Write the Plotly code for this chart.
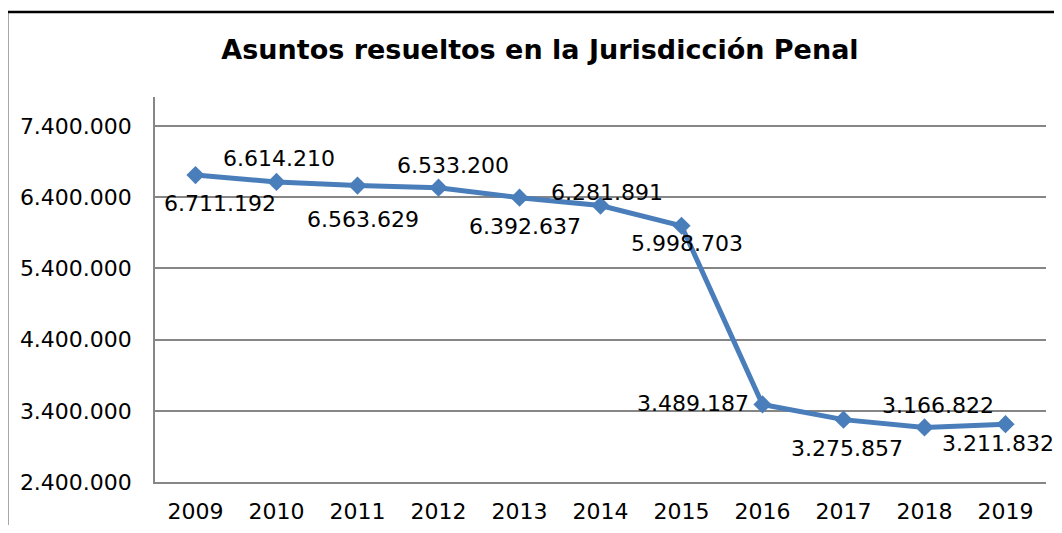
import plotly.graph_objects as go

years = ["2009", "2010", "2011", "2012", "2013", "2014", "2015", "2016", "2017", "2018", "2019"]
resueltos = [6711192, 6614210, 6563629, 6533200, 6392637, 6281891, 5998703, 3489187, 3275857, 3166822, 3211832]
y_ticks = [2400000, 3400000, 4400000, 5400000, 6400000, 7400000]
y_tick_labels = ["2.400.000", "3.400.000", "4.400.000", "5.400.000", "6.400.000", "7.400.000"]
# label offsets (pixels) relative to each point
label_dx = [24, 2, 5, 14, 5, 6, 5, -70, 3, 13, -8]
label_dy = [-28, 23, -34, 22, -29, 13, -18, 1, -29, 22, -19]

LINE = "#4A7EBB"
GRID = "#868686"
FONT = "DejaVu Sans"
FS = 22

def fmt(v):
    return f"{v:,}".replace(",", ".")

fig = go.Figure()
fig.add_trace(go.Scatter(
    x=years, y=resueltos, mode="lines+markers",
    line=dict(color=LINE, width=5),
    marker=dict(symbol="diamond", size=14, color=LINE),
    hoverinfo="x+y", showlegend=False,
))

annotations = []
for i, (v, dx, dy) in enumerate(zip(resueltos, label_dx, label_dy)):
    annotations.append(dict(x=i, y=v, xref="x", yref="y", text=fmt(v), showarrow=False,
                            xshift=dx, yshift=dy, xanchor="center", yanchor="middle",
                            font=dict(family=FONT, size=FS, color="#000000")))

shapes = [
    dict(type="line", xref="paper", yref="paper",
         x0=-0.166, x1=1.2, y0=1.2208, y1=1.2208,
         line=dict(color="#000000", width=2.5)),
    dict(type="line", xref="paper", yref="paper",
         x0=-0.166, x1=-0.166, y0=-0.3, y1=1.2208,
         line=dict(color="#000000", width=2.5)),
]

W, H = 1046, 517
fig.update_layout(
    width=W, height=H,
    margin=dict(l=147, r=8, t=89, b=43, autoexpand=False),
    paper_bgcolor="white", plot_bgcolor="white",
    font=dict(family=FONT, size=FS, color="#000000"),
    title=dict(text="<b>Asuntos resueltos en la Jurisdicción Penal</b>",
               x=(540 - 8) / W, xref="container", xanchor="center",
               y=1 - (50 - 8) / H, yref="container", yanchor="middle",
               font=dict(family=FONT, size=27, color="#000000")),
    xaxis=dict(type="category", range=[-0.5, 10.5], showgrid=False, automargin=False,
               showline=True, linecolor=GRID, linewidth=1.5,
               ticks="", ticklabelstandoff=9,
               tickfont=dict(family=FONT, size=FS)),
    yaxis=dict(range=[2400000, 7807000], tickvals=y_ticks, ticktext=y_tick_labels,
               automargin=False,
               showgrid=True, gridcolor=GRID, gridwidth=1.5,
               showline=True, linecolor=GRID, linewidth=1.5,
               zeroline=False, ticks="", ticklabelstandoff=17,
               tickfont=dict(family=FONT, size=FS)),
    annotations=annotations,
    shapes=shapes,
)

fig.write_html("out.html")
